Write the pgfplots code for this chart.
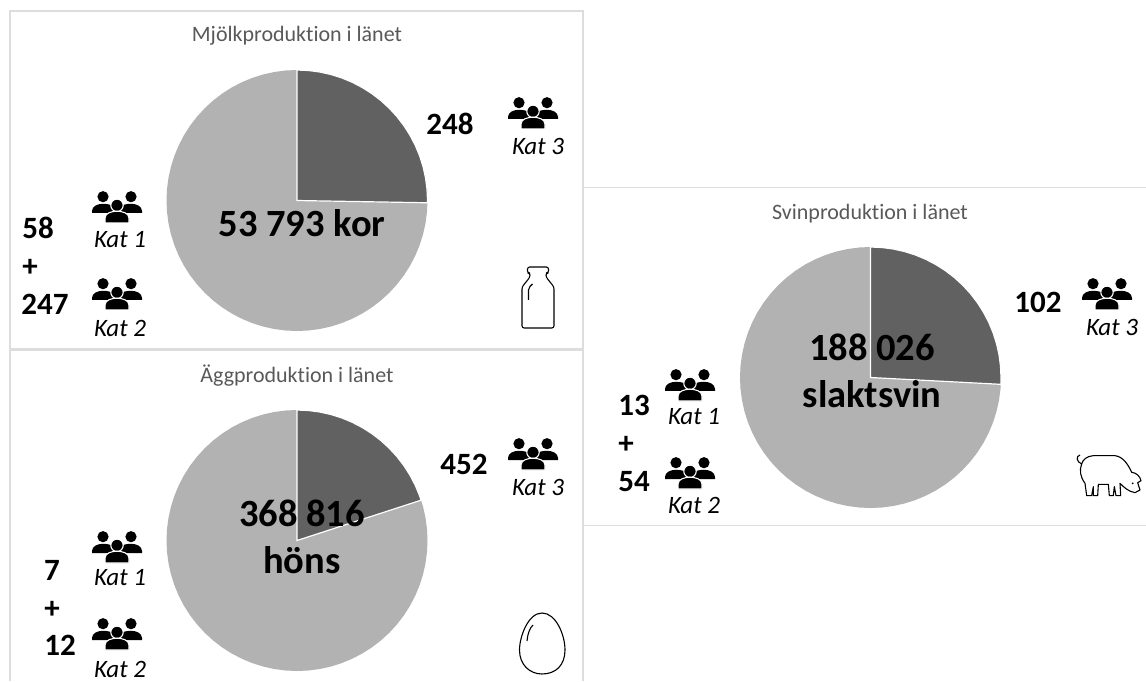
\documentclass[border=0pt]{standalone}
\usepackage{pgfplots}
\usepackage{pgfplotstable}
\usepackage{fontspec}
\setmainfont[Ligatures=NoCommon]{Carlito}
\pgfplotsset{compat=1.18}
\definecolor{lightslice}{HTML}{B2B2B2}
\definecolor{darkslice}{HTML}{616161}
\definecolor{panel}{HTML}{DDDDDD}
\definecolor{titlegray}{HTML}{595959}
% unit-circle outline, clockwise from the top, every 5 degrees
\pgfplotstableread{
x y
0 1
.08716 .99619
.17365 .98481
.25882 .96593
.34202 .93969
.42262 .90631
.5 .86603
.57358 .81915
.64279 .76604
.70711 .70711
.76604 .64279
.81915 .57358
.86603 .5
.90631 .42262
.93969 .34202
.96593 .25882
.98481 .17365
.99619 .08716
1 0
.99619 -.08716
.98481 -.17365
.96593 -.25882
.93969 -.34202
.90631 -.42262
.86603 -.5
.81915 -.57358
.76604 -.64279
.70711 -.70711
.64279 -.76604
.57358 -.81915
.5 -.86603
.42262 -.90631
.34202 -.93969
.25882 -.96593
.17365 -.98481
.08716 -.99619
0 -1
-.08716 -.99619
-.17365 -.98481
-.25882 -.96593
-.34202 -.93969
-.42262 -.90631
-.5 -.86603
-.57358 -.81915
-.64279 -.76604
-.70711 -.70711
-.76604 -.64279
-.81915 -.57358
-.86603 -.5
-.90631 -.42262
-.93969 -.34202
-.96593 -.25882
-.98481 -.17365
-.99619 -.08716
-1 0
-.99619 .08716
-.98481 .17365
-.96593 .25882
-.93969 .34202
-.90631 .42262
-.86603 .5
-.81915 .57358
-.76604 .64279
-.70711 .70711
-.64279 .76604
-.57358 .81915
-.5 .86603
-.42262 .90631
-.34202 .93969
-.25882 .96593
-.17365 .98481
-.08716 .99619
}\circletable
% dark slices: Mjolk about 25.3 %, Svin about 25.8 %, Agg 20 %
\pgfplotstableread{
x y
0 0
0 1
.08716 .99619
.17365 .98481
.25882 .96593
.34202 .93969
.42262 .90631
.5 .86603
.57358 .81915
.64279 .76604
.70711 .70711
.76604 .64279
.81915 .57358
.86603 .5
.90631 .42262
.93969 .34202
.96593 .25882
.98481 .17365
.99619 .08716
1 0
.99985 -.01745
}\sliceA
\pgfplotstableread{
x y
0 0
0 1
.08716 .99619
.17365 .98481
.25882 .96593
.34202 .93969
.42262 .90631
.5 .86603
.57358 .81915
.64279 .76604
.70711 .70711
.76604 .64279
.81915 .57358
.86603 .5
.90631 .42262
.93969 .34202
.96593 .25882
.98481 .17365
.99619 .08716
1 0
.99863 -.05234
}\sliceC
\pgfplotstableread{
x y
0 0
0 1
.08716 .99619
.17365 .98481
.25882 .96593
.34202 .93969
.42262 .90631
.5 .86603
.57358 .81915
.64279 .76604
.70711 .70711
.76604 .64279
.81915 .57358
.86603 .5
.90631 .42262
.93969 .34202
.95106 .30902
}\sliceB
\newcommand{\piechart}[4]{% cx cy r slice
  \addplot[fill=lightslice,draw=none] table[x expr={#1+#3*\thisrow{x}},y expr={#2-#3*\thisrow{y}}] {\circletable} -- cycle;
  \addplot[fill=darkslice,draw=white,line width=1.2pt] table[x expr={#1+#3*\thisrow{x}},y expr={#2-#3*\thisrow{y}}] {#4} -- cycle;
}
\newcommand{\biglab}[3]{\node[font=\fontsize{38.5}{38.5}\selectfont\bfseries,anchor=center] at (axis cs:#1,#2) {#3};}
\newcommand{\numlab}[3]{\node[font=\fontsize{31}{31}\selectfont\bfseries,anchor=center] at (axis cs:#1,#2) {#3};}
\newcommand{\katlab}[3]{\node[font=\fontsize{25}{25}\selectfont\itshape,anchor=center] at (axis cs:#1,#2) {#3};}
\newcommand{\ttl}[3]{\node[font=\fontsize{22}{22}\selectfont,text=titlegray,anchor=center] at (axis cs:#1,#2) {#3};}
\newcommand{\people}[2]{%
  \begin{scope}[shift={(#1,#2)}]
    \fill (-14,-10.3) circle (5.6);
    \fill (14,-10.3) circle (5.6);
    \fill (-25,6) -- (-25,4) .. controls (-25,-1) and (-19,-3.2) .. (-14,-3.2) .. controls (-9,-3.2) and (-5,-2) .. (-3,0) -- (-3,6) -- cycle;
    \fill (25,6) -- (25,4) .. controls (25,-1) and (19,-3.2) .. (14,-3.2) .. controls (9,-3.2) and (5,-2) .. (3,0) -- (3,6) -- cycle;
    \filldraw[draw=white,line width=1.1pt] (0,-1.7) circle (6.2);
    \filldraw[draw=white,line width=1.1pt] (-12,16) -- (-12,11) .. controls (-12,6) and (-5,4.2) .. (0,4.2) .. controls (5,4.2) and (12,6) .. (12,11) -- (12,16) -- cycle;
  \end{scope}}
\begin{document}
\begin{tikzpicture}[x=1pt,y=1pt]
\useasboundingbox (0,0) rectangle (1146,681);
\fill[white] (0,0) rectangle (1146,681);
\begin{axis}[at={(0,0)},anchor=south west,scale only axis,width=1146pt,height=681pt,
  xmin=0,xmax=1146,ymin=0,ymax=681,y dir=reverse,hide axis,clip=false]
\piechart{297}{200.5}{130.5}{\sliceA}
\piechart{297}{540.5}{130.5}{\sliceB}
\piechart{870.5}{377.5}{130.5}{\sliceC}
\ttl{297}{36}{Mjölkproduktion i länet}
\ttl{297}{376}{Äggproduktion i länet}
\ttl{870}{214}{Svinproduktion i länet}
\biglab{302}{223}{53 793 kor}
\biglab{302}{513}{368 816}
\biglab{302}{560}{höns}
\biglab{872}{347}{188 026}
\biglab{872}{394}{slaktsvin}
\numlab{450}{124}{248}
\numlab{38}{228}{58}
\numlab{30}{268}{+}
\numlab{45}{304}{247}
\numlab{464}{464}{452}
\numlab{52}{570}{7}
\numlab{52}{610}{+}
\numlab{60}{645}{12}
\numlab{1038}{302}{102}
\numlab{634}{405}{13}
\numlab{626}{445}{+}
\numlab{634}{482}{54}
\katlab{538}{146}{Kat 3}
\katlab{120}{240}{Kat 1}
\katlab{120}{328}{Kat 2}
\katlab{538}{487}{Kat 3}
\katlab{120}{578}{Kat 1}
\katlab{120}{669}{Kat 2}
\katlab{1112}{327}{Kat 3}
\katlab{694}{417}{Kat 1}
\katlab{694}{505}{Kat 2}
\end{axis}
\begin{scope}[x=1pt,y=-1pt,shift={(0,-681)}]
% panels
\draw[panel,line width=1.6pt] (10,681) -- (10,11) -- (583,11) -- (583,681);
\draw[panel,line width=3pt] (10,350) -- (583,350);
\draw[panel,line width=1.3pt] (583,187.3) -- (1146,187.3);
\draw[panel,line width=1.3pt] (583,525.8) -- (1146,525.8);
% people
\people{533}{113}\people{117}{207}\people{117}{294}
\people{533}{454}\people{117}{547}\people{117}{634}
\people{1107}{294}\people{690}{385}\people{690}{473}
% bottle
\draw[line width=1.1pt,rounded corners=2.2pt,line join=round] (530,277) -- (530,273) -- (527.5,273) -- (527.5,267) -- (548.5,267) -- (548.5,273) -- (546,273) -- (546,277) -- (554,287) -- (554,328) -- (522,328) -- (522,287) -- cycle;
\draw[line width=1.1pt,rounded corners=2pt] (528.5,300) -- (528.5,288) -- (532.5,284);
% egg
\draw[line width=1.1pt] (542,613) .. controls (528,613) and (519.5,637) .. (519.5,650) .. controls (519.5,665) and (530,674) .. (542,674) .. controls (556,674) and (565,665) .. (565,650) .. controls (565,635) and (556,613) .. (542,613) -- cycle;
\draw[line width=1.1pt] (527,641) .. controls (528,632) and (530,628) .. (533,625);
% pig
\begin{scope}[shift={(1060,440)},x=.3333pt,y=-.3333pt]
\draw[line width=1.1pt,line join=round] (60,45) .. controls (48,48) and (48,65) .. (65,72) .. controls (68,60) and (80,48) .. (100,47) -- (165,47) .. controls (190,50) and (205,75) .. (215,97) .. controls (228,98) and (240,108) .. (243,122) -- (233,128) -- (240,150) -- (225,158) .. controls (205,155) and (190,140) .. (180,130) -- (182,167) -- (168,167) -- (163,140) -- (160,167) -- (148,167) -- (145,133) -- (115,133) -- (113,167) -- (100,167) -- (100,140) -- (95,167) -- (80,167) -- (75,130) .. controls (60,110) and (58,90) .. (65,72);
\fill (218,130) circle (3);
\end{scope}
\end{scope}
\end{tikzpicture}
\end{document}
